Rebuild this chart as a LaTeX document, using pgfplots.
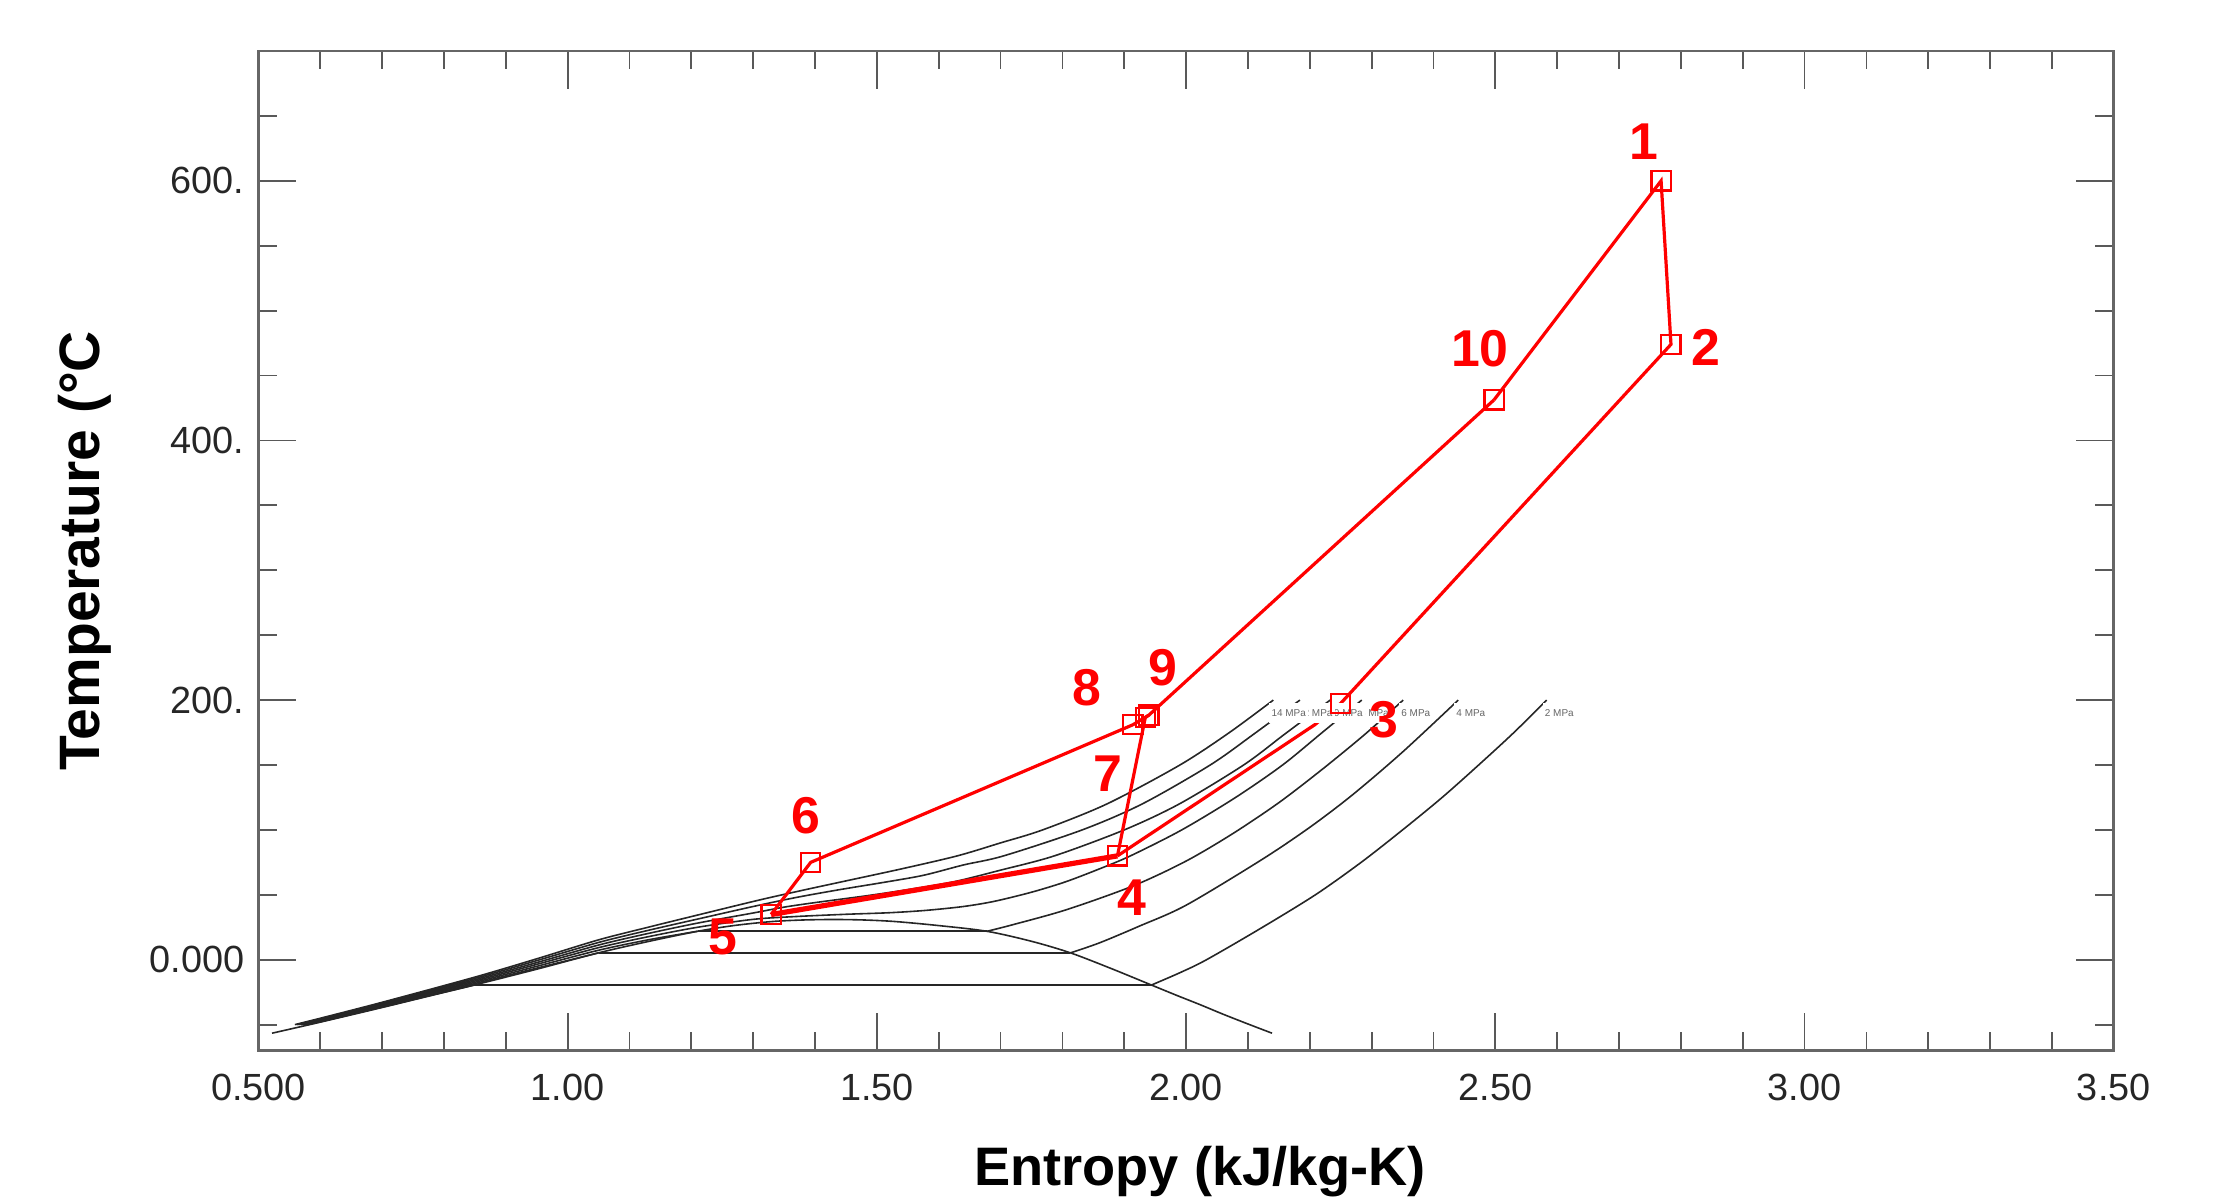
\documentclass[border=0pt]{standalone}
\usepackage{fontspec}
\setmainfont{Liberation Sans}
\usepackage{pgfplots}
\pgfplotsset{compat=1.18}
\pgfplotsset{
  iso/.style={black!85, line width=0.4bp, smooth, tension=0.5, mark=none},
  isoflat/.style={black!85, line width=0.4bp, mark=none},
  cyc/.style={red, line width=0.8bp, mark=none},
}
\tikzset{
  isolab/.style={anchor=west, fill=white, text=black!60, inner xsep=0.6bp, inner ysep=0pt,
    minimum height=4.9bp, font=\fontsize{2.5}{2.7}\selectfont},
  numlab/.style={text=red, font=\bfseries\fontsize{13}{14}\selectfont, inner sep=0pt},
}
\begin{document}
\begin{tikzpicture}
\begin{axis}[name=ax,
  width=463.85bp, height=249.9bp, scale only axis,
  xmin=0.5, xmax=3.5, ymin=-70, ymax=700, clip=false,
  xtick={0.5,1,1.5,2,2.5,3,3.5},
  xticklabels={0.500,1.00,1.50,2.00,2.50,3.00,3.50},
  minor x tick num=4,
  ytick={0,200,400,600},
  yticklabels={0.000,200.,400.,600.},
  minor ytick={-50,50,100,150,250,300,350,450,500,550,650},
  tick align=inside, major tick length=9.5bp, minor tick length=4.6bp,
  axis line style={black!60, line width=0.7bp},
  tick style={black!65, line width=0.45bp},
  tick label style={font=\fontsize{9.5}{11}\selectfont, text=black!85},
  xticklabel style={yshift=-2.4bp},
]
% saturation dome
\addplot[iso] coordinates {(0.522,-56.6)(0.60,-48.1)(0.70,-36.8)(0.78,-27.5)(0.849,-19.5)(0.95,-7.3)(1.05,5.3)(1.13,14)(1.21,21.9)(1.27,26.4)(1.33,29.4)(1.38,30.6)(1.43,31.0)(1.48,30.6)(1.53,29.4)(1.60,26.3)(1.678,21.9)(1.75,14.2)(1.813,5.3)(1.88,-7)(1.944,-19.5)(1.985,-27.5)(2.022,-34.5)(2.06,-42)(2.10,-49.5)(2.139,-56.6)};
% 2 MPa
\addplot[iso] coordinates {(0.580,-50)(0.60,-47.8)(0.70,-36.5)(0.78,-27.3)(0.849,-19.5)};
\addplot[isoflat] coordinates {(0.849,-19.5)(1.944,-19.5)};
\addplot[iso] coordinates {(1.944,-19.5)(1.99,-10)(2.033,0)(2.12,24)(2.209,50)(2.283,75)(2.350,100)(2.414,125)(2.473,150)(2.53,175)(2.583,200)};
% 4 MPa
\addplot[iso] coordinates {(0.576,-50)(0.60,-47.3)(0.70,-35.9)(0.85,-18.4)(0.95,-6.5)(1.05,5.3)};
\addplot[isoflat] coordinates {(1.05,5.3)(1.813,5.3)};
\addplot[iso] coordinates {(1.813,5.3)(1.86,13)(1.925,26)(2.0,42)(2.122,77)(2.2,102)(2.269,127)(2.35,160)(2.44,200)};
% 6 MPa
\addplot[iso] coordinates {(0.573,-50)(0.60,-46.9)(0.70,-35.3)(0.85,-17.4)(0.95,-5.1)(1.05,7.3)(1.13,15.3)(1.21,21.9)};
\addplot[isoflat] coordinates {(1.21,21.9)(1.678,21.9)};
\addplot[iso] coordinates {(1.678,21.9)(1.72,27)(1.807,38.6)(1.915,57)(2.0,76)(2.075,97)(2.15,121)(2.221,147)(2.29,174)(2.351,200)};
% 8 MPa
\addplot[iso] coordinates {(0.569,-50)(0.60,-46.4)(0.70,-34.7)(0.85,-16.4)(0.95,-3.6)(1.05,9.3)(1.13,17.7)(1.21,25)(1.30,31.1)(1.37,33.3)(1.45,35)(1.52,36.2)(1.579,38)(1.64,41)(1.69,45)(1.75,52)(1.805,60)(1.86,70)(1.910,80)(1.993,100)(2.08,125)(2.156,150)(2.22,175)(2.284,200)};
% 10 MPa
\addplot[iso] coordinates {(0.565,-50)(0.60,-46)(0.70,-34.05)(0.85,-15.4)(0.95,-2.2)(1.05,11.3)(1.13,20.2)(1.21,28.2)(1.30,36)(1.35,40.5)(1.40,44)(1.487,49.5)(1.55,54)(1.624,60)(1.70,69)(1.787,80)(1.90,100)(1.989,120)(2.093,150)(2.16,174)(2.233,200)};
% 12 MPa
\addplot[iso] coordinates {(0.562,-50)(0.60,-45.55)(0.70,-33.4)(0.85,-14.4)(0.95,-0.7)(1.05,13.3)(1.13,22.6)(1.21,31.3)(1.30,41)(1.37,48)(1.44,54)(1.51,59.5)(1.575,65)(1.64,73)(1.705,80)(1.832,100)(1.929,120)(2.039,150)(2.11,174)(2.184,200)};
% 14 MPa
\addplot[iso] coordinates {(0.559,-50)(0.60,-45.1)(0.70,-32.8)(0.85,-13.4)(0.95,0.7)(1.05,15.3)(1.13,25)(1.21,34.4)(1.31,46)(1.38,53.5)(1.443,60)(1.54,70)(1.63,80)(1.70,90)(1.768,100)(1.872,120)(1.99,150)(2.07,175)(2.141,200)};
% cycle
\addplot[cyc] coordinates {(2.498,431.3)(2.768,600)(2.784,474)(2.25,197.5)(2.208,181)(1.889,80)};
\addplot[cyc, line width=1.3bp] coordinates {(1.889,80)(1.329,34.8)};
\addplot[cyc] coordinates {(1.329,34.8)(1.393,75)(1.914,181)(1.940,188.5)(2.498,431.3)};
\addplot[cyc] coordinates {(1.889,80)(1.934,186.5)(1.940,188.5)};
\addplot[red, line width=0.55bp, only marks, mark=square, mark size=2.4bp] coordinates {(2.768,600)(2.784,474)(2.25,197.5)(1.889,80)(1.329,34.8)(1.393,75)(1.914,181)(1.934,186.5)(1.940,188.5)(2.498,431.3)};
% isobar labels
\node[isolab] at (axis cs:2.575,190) {2 MPa};
\node[isolab] at (axis cs:2.432,190) {4 MPa};
\node[isolab] at (axis cs:2.343,190) {6 MPa};
\node[isolab] at (axis cs:2.276,190) {8 MPa};
\node[isolab] at (axis cs:2.225,190) {10 MPa};
\node[isolab] at (axis cs:2.176,190) {12 MPa};
\node[isolab] at (axis cs:2.133,190) {14 MPa};
% state labels
\node[numlab] at (axis cs:2.740,630.4) {1};
\node[numlab] at (axis cs:2.840,471.7) {2};
\node[numlab] at (axis cs:2.320,184.8) {3};
\node[numlab] at (axis cs:1.913,47.8) {4};
\node[numlab] at (axis cs:1.251,17.4) {5};
\node[numlab] at (axis cs:1.386,110.9) {6};
\node[numlab] at (axis cs:1.874,143.5) {7};
\node[numlab] at (axis cs:1.840,209.8) {8};
\node[numlab] at (axis cs:1.963,225) {9};
\node[numlab] at (axis cs:2.475,470.7) {10};
\end{axis}
\node[anchor=base, font=\bfseries\fontsize{13.6}{15}\selectfont] at ([xshift=3.5bp,yshift=-33.75bp]ax.south) {Entropy (kJ/kg-K)};
\node[rotate=90, anchor=base, font=\bfseries\fontsize{14.3}{15}\selectfont] at ([xshift=-39.7bp]ax.west) {Temperature (°C};
\pgfresetboundingbox
\useasboundingbox ([xshift=-64.6bp,yshift=-36.6bp]ax.south west) rectangle ++(553.5bp,299.25bp);
\end{tikzpicture}
\end{document}
